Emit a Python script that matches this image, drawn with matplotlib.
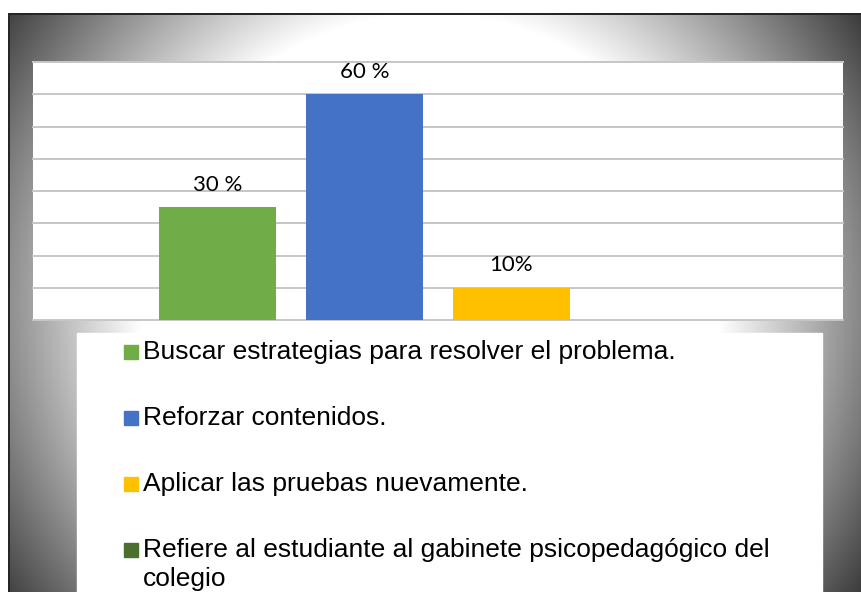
import numpy as np
import matplotlib.pyplot as plt
from matplotlib.patches import Rectangle

# data
series = [
    'Buscar estrategias para resolver el problema.',
    'Reforzar contenidos.',
    'Aplicar las pruebas nuevamente.',
    'Refiere al estudiante al gabinete psicopedagógico del\ncolegio',
]
values = [3.5, 7, 1, 0]
value_labels = ['30 %', '60 %', '10%', '']
colors = ['#70AD47', '#4472C4', '#FFC000', '#4A6F2F']

W, H = 861, 592
fig = plt.figure(figsize=(W / 100, H / 100), dpi=100)

# gradient background (white centre, dark corners) in pixel coords
bg = fig.add_axes([0, 0, 1, 1])
yy, xx = np.mgrid[0:H, 0:W]
d = np.hypot(xx - 430, yy - 303)
shade = np.clip(1 - (d - 290) * 0.00335, 0.22, 1)
img = np.dstack([shade] * 3)
img[:13, :] = 1
img[:, :8] = 1
img[13:15, 8:] = 0.15
img[13:, 8:10] = 0.15
bg.imshow(img, extent=(0, W, H, 0), aspect='auto', interpolation='bilinear')
bg.set_xlim(0, W)
bg.set_ylim(H, 0)
bg.axis('off')

# white legend box
bg.add_patch(Rectangle((77, 333), 745, 262, color='white', zorder=2))

# bar chart
ax = fig.add_axes([33 / W, (H - 320) / H, 810 / W, 258 / H])
ax.set_facecolor('white')
x = np.arange(len(values))
bars = ax.bar(x, values, width=0.79, color=colors, zorder=3)
ax.set_xlim(-1.255, 4.255)
ax.set_ylim(0, 8)
for t in range(9):
    ax.axhline(t, color='#c6c6c6', lw=1.4, zorder=1, clip_on=False)
for s in ax.spines.values():
    s.set_visible(False)
ax.tick_params(left=False, bottom=False, labelleft=False, labelbottom=False)
ax.bar_label(bars, labels=value_labels, padding=9, fontsize=16, family='Lato')

# legend, drawn by hand so the wrapped label hangs from its first line
for i, (lab, col) in enumerate(zip(series, colors)):
    base = 359 + i * 66
    bg.add_patch(Rectangle((124, base - 14), 14, 14, color=col, zorder=3))
    for j, line in enumerate(lab.split('\n')):
        bg.text(143, base + j * 29, line, fontsize=19, family='Liberation Sans',
                va='baseline', ha='left', zorder=4)

fig.savefig('out.png', dpi=100)
